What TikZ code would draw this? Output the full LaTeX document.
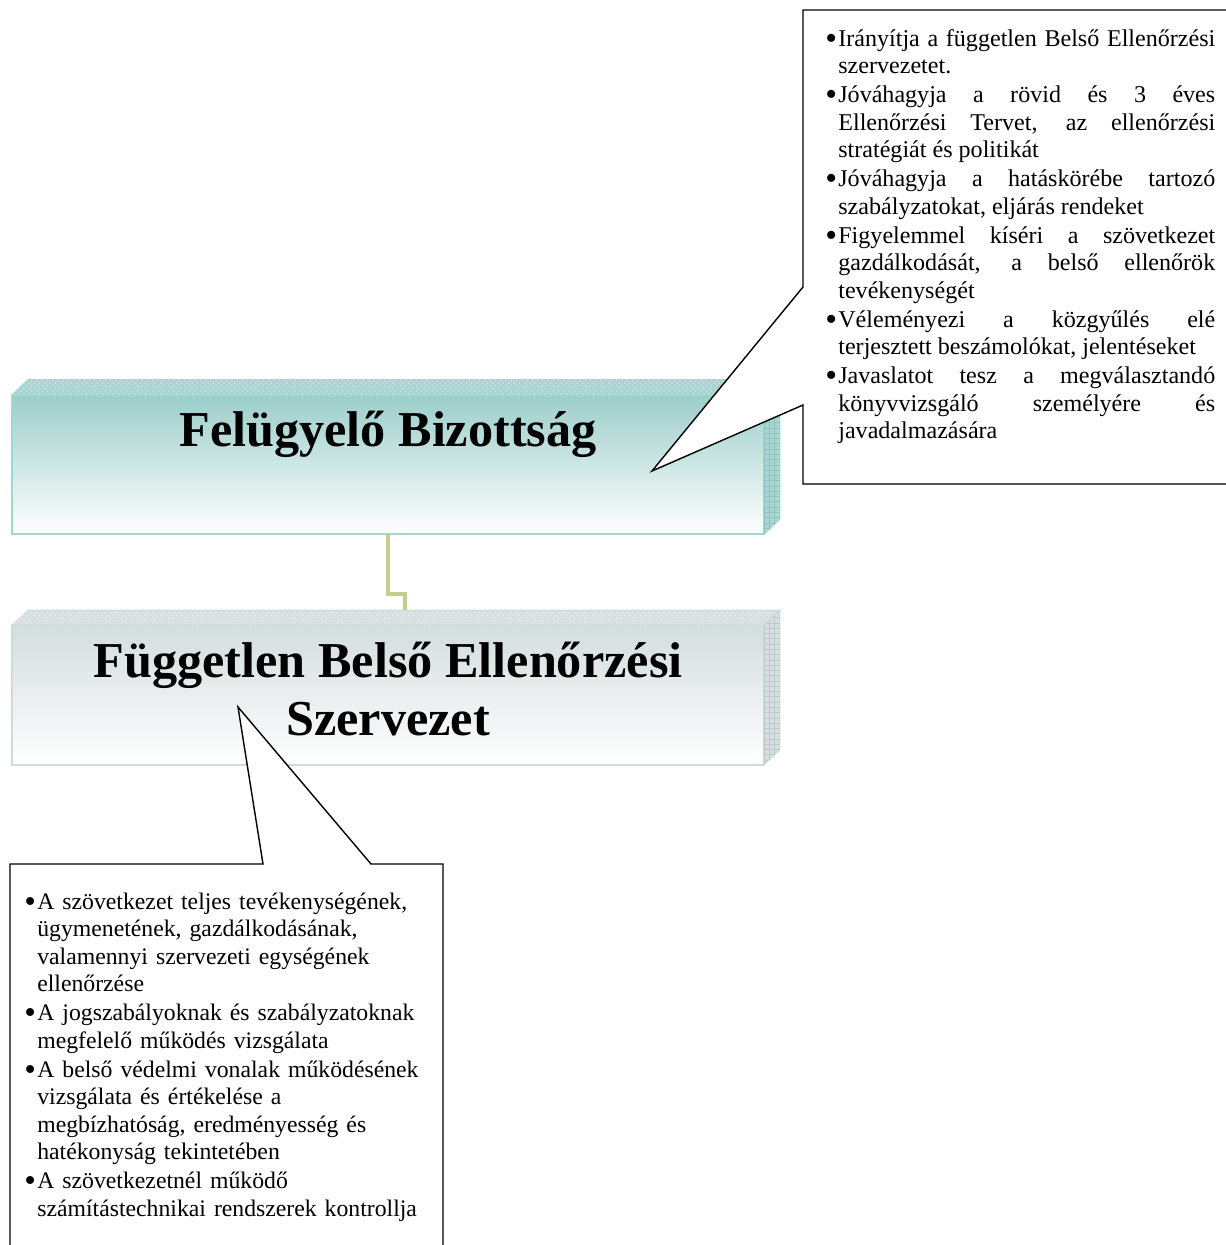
\documentclass[tikz,border=0pt]{standalone}
\usepackage{fontspec}
\setmainfont{Liberation Serif}
\usetikzlibrary{positioning,calc,patterns}

\definecolor{boardfront}{HTML}{9BCECA}
\definecolor{boardtop}{HTML}{A8D5D1}
\definecolor{boardside}{HTML}{A9D6D2}
\definecolor{boardgrid}{HTML}{8EC3BF}
\definecolor{boardedge}{HTML}{A2D6D2}
\definecolor{auditfront}{HTML}{D3DDDE}
\definecolor{audittop}{HTML}{D7DFE0}
\definecolor{auditside}{HTML}{D7DFE0}
\definecolor{auditgrid}{HTML}{BFC9CB}
\definecolor{auditedge}{HTML}{CFDADA}
\definecolor{linkcol}{HTML}{C9C994}

% bullet line with hanging indent
\newcommand{\pont}{\par\noindent\hangindent=0.26cm\hangafter=1\makebox[0.26cm][l]{\strut\raisebox{-0.13em}{\scalebox{1.4}{\textbullet}}}}

\begin{document}
\begin{tikzpicture}[x=0.02cm, y=-0.02cm,
  frontbox/.style={minimum width=15.04cm, minimum height=2.79cm, inner sep=0pt, outer sep=0pt, line width=1pt},
  boardbox/.style={frontbox, draw=boardedge, top color=boardfront, middle color=boardfront!45!white, bottom color=white},
  auditbox/.style={frontbox, draw=auditedge, top color=auditfront, middle color=auditfront!50!white, bottom color=white},
  titletext/.style={inner sep=0pt, font=\fontsize{28.6}{32.9}\selectfont\bfseries},
  notetext/.style={inner sep=0pt, font={\fontsize{13.7}{15.65}\selectfont\parskip=0.85pt\relax\tolerance=10000\relax\hbadness=10000\relax}},
  callout/.style={draw=black, fill=white, line width=0.8pt, line join=miter},
  link/.style={draw=linkcol, line width=2.3pt}]
\useasboundingbox (0,0) rectangle (1225,1245);

% the two boxes
\node[boardbox] (board) at (388,464.5) {};
\node[auditbox] (audit) at (388,695) {};
\foreach \b in {board, audit} {
  \path[fill=\b top, draw=\b edge, line width=0.6pt, postaction={pattern=crosshatch dots, pattern color=white!45!\b top}]
    (\b.north west) -- ++(16,-15) -- ($(\b.north east)+(16,-15)$) -- (\b.north east) -- cycle;
  \path[fill=\b side, draw=\b edge, line width=0.6pt, postaction={pattern=grid, pattern color=\b grid}]
    (\b.north east) -- ++(16,-15) -- ($(\b.south east)+(16,-15)$) -- (\b.south east) -- cycle;
}
\node[titletext, anchor=base] (boardtitle) at ($(board.north)+(0,52)$) {Felügyelő Bizottság};
\node[titletext, anchor=north, align=center] (audittitle) at ($(audit.north)+(0,11.5)$)
  {\strut Független Belső Ellenőrzési\\Szervezet};

% connector
\coordinate (audittop) at ($(audit.north)+(17,-15)$);
\draw[link] (board.south) -- ++(0,60) -| (audittop);

% callouts
\coordinate (boardtip) at (652,471);
\coordinate (audittip) at (238,707);
\draw[callout] (803,287) -- (boardtip) -- (803,405) -- (803,484) -- (1230,484) -- (1230,10) -- (803,10) -- cycle;
\draw[callout] (263,864) -- (audittip) -- (371,864) -- (443,864) -- (443,1252) -- (10,1252) -- (10,864) -- cycle;

\node[notetext, text width=7.8cm, align=justify, anchor=north west] (boardnote) at (825,17) {%
\pont Irányítja a független Belső Ellenőrzési\linebreak szervezetet.
\pont Jóváhagyja a rövid és 3 éves\linebreak Ellenőrzési Tervet, az ellenőrzési\linebreak stratégiát és politikát
\pont Jóváhagyja a hatáskörébe tartozó\linebreak szabályzatokat, eljárás rendeket
\pont Figyelemmel kíséri a szövetkezet\linebreak gazdálkodását, a belső ellenőrök\linebreak tevékenységét
\pont Véleményezi a közgyűlés elé\linebreak terjesztett beszámolókat, jelentéseket
\pont Javaslatot tesz a megválasztandó\linebreak könyvvizsgáló személyére és\linebreak javadalmazására\par};

\node[notetext, text width=8.2cm, anchor=north west] (auditnote) at (24,880) {%
\fontsize{13.5}{15.65}\selectfont\rightskip=0pt plus 1fil\relax
\pont A szövetkezet teljes tevékenységének,\linebreak ügymenetének, gazdálkodásának,\linebreak valamennyi szervezeti egységének\linebreak ellenőrzése
\pont A jogszabályoknak és szabályzatoknak\linebreak megfelelő működés vizsgálata
\pont A belső védelmi vonalak működésének\linebreak vizsgálata és értékelése a\linebreak megbízhatóság, eredményesség és\linebreak hatékonyság tekintetében
\pont A szövetkezetnél működő\linebreak számítástechnikai rendszerek kontrollja\par};
\end{tikzpicture}
\end{document}
